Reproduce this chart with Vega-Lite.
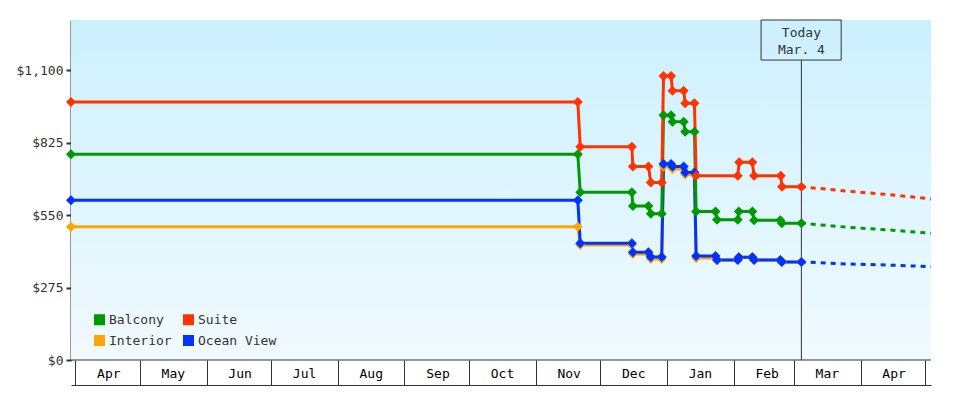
{
  "$schema": "https://vega.github.io/schema/vega-lite/v6.json",
  "width": 860,
  "height": 340,
  "autosize": "none",
  "padding": {"left": 71, "top": 20, "right": 49, "bottom": 40},
  "background": "white",
  "config": {
    "font": "DejaVu Sans Mono",
    "view": {"stroke": null},
    "axisX": {"domainColor": "#333", "tickColor": "#333", "labelColor": "#000", "labelFontSize": 13, "labelFont": "DejaVu Sans Mono", "grid": false},
    "axisY": {"domainColor": "#333", "domainWidth": 2, "tickColor": "#333", "tickWidth": 2, "tickSize": 5, "labelColor": "#333", "labelFontSize": 13, "labelFont": "DejaVu Sans Mono", "labelPadding": 3, "grid": false},
    "legend": {"title": null, "orient": "none", "legendX": 22, "legendY": 293, "columns": 2, "direction": "horizontal",
               "symbolType": "square", "symbolSize": 121, "symbolStrokeWidth": 0, "symbolOpacity": 1, "symbolDash": [],
               "labelFontSize": 13, "labelFont": "DejaVu Sans Mono", "labelColor": "#333", "labelOffset": 3,
               "rowPadding": 7, "columnPadding": 10, "padding": 0}
  },
  "datasets": {
    "obs": [
      {"cabin": "Interior", "date": "2022-03-30T00:00", "price": 506},
      {"cabin": "Interior", "date": "2022-11-20T14:00", "price": 506},
      {"cabin": "Interior", "date": "2022-11-21T17:00", "price": 436},
      {"cabin": "Interior", "date": "2022-12-15T17:00", "price": 436},
      {"cabin": "Interior", "date": "2022-12-16T04:00", "price": 402},
      {"cabin": "Interior", "date": "2022-12-23T10:00", "price": 402},
      {"cabin": "Interior", "date": "2022-12-24T12:00", "price": 383},
      {"cabin": "Interior", "date": "2022-12-29T14:00", "price": 383},
      {"cabin": "Interior", "date": "2022-12-30T10:00", "price": 734},
      {"cabin": "Interior", "date": "2023-01-02T22:00", "price": 734},
      {"cabin": "Interior", "date": "2023-01-03T14:00", "price": 725},
      {"cabin": "Interior", "date": "2023-01-08T19:00", "price": 725},
      {"cabin": "Interior", "date": "2023-01-09T12:00", "price": 704},
      {"cabin": "Interior", "date": "2023-01-13T19:00", "price": 704},
      {"cabin": "Interior", "date": "2023-01-14T14:00", "price": 387},
      {"cabin": "Interior", "date": "2023-01-23T14:00", "price": 387},
      {"cabin": "Interior", "date": "2023-01-24T07:00", "price": 379},
      {"cabin": "Interior", "date": "2023-02-02T22:00", "price": 379},
      {"cabin": "Interior", "date": "2023-02-03T10:00", "price": 390},
      {"cabin": "Interior", "date": "2023-02-09T17:00", "price": 390},
      {"cabin": "Interior", "date": "2023-02-10T12:00", "price": 379},
      {"cabin": "Interior", "date": "2023-02-22T17:00", "price": 379},
      {"cabin": "Interior", "date": "2023-02-23T10:00", "price": 372},
      {"cabin": "Interior", "date": "2023-03-04T12:00", "price": 372},
      {"cabin": "Ocean View", "date": "2022-03-30T00:00", "price": 606},
      {"cabin": "Ocean View", "date": "2022-11-20T14:00", "price": 606},
      {"cabin": "Ocean View", "date": "2022-11-21T17:00", "price": 443},
      {"cabin": "Ocean View", "date": "2022-12-15T17:00", "price": 443},
      {"cabin": "Ocean View", "date": "2022-12-16T04:00", "price": 409},
      {"cabin": "Ocean View", "date": "2022-12-23T10:00", "price": 409},
      {"cabin": "Ocean View", "date": "2022-12-24T12:00", "price": 391},
      {"cabin": "Ocean View", "date": "2022-12-29T14:00", "price": 391},
      {"cabin": "Ocean View", "date": "2022-12-30T10:00", "price": 744},
      {"cabin": "Ocean View", "date": "2023-01-02T22:00", "price": 744},
      {"cabin": "Ocean View", "date": "2023-01-03T14:00", "price": 734},
      {"cabin": "Ocean View", "date": "2023-01-08T19:00", "price": 734},
      {"cabin": "Ocean View", "date": "2023-01-09T12:00", "price": 711},
      {"cabin": "Ocean View", "date": "2023-01-13T19:00", "price": 711},
      {"cabin": "Ocean View", "date": "2023-01-14T14:00", "price": 395},
      {"cabin": "Ocean View", "date": "2023-01-23T14:00", "price": 395},
      {"cabin": "Ocean View", "date": "2023-01-24T07:00", "price": 379},
      {"cabin": "Ocean View", "date": "2023-02-02T22:00", "price": 379},
      {"cabin": "Ocean View", "date": "2023-02-03T10:00", "price": 390},
      {"cabin": "Ocean View", "date": "2023-02-09T17:00", "price": 390},
      {"cabin": "Ocean View", "date": "2023-02-10T12:00", "price": 379},
      {"cabin": "Ocean View", "date": "2023-02-22T17:00", "price": 379},
      {"cabin": "Ocean View", "date": "2023-02-23T10:00", "price": 372},
      {"cabin": "Ocean View", "date": "2023-03-04T12:00", "price": 372},
      {"cabin": "Balcony", "date": "2022-03-30T00:00", "price": 781},
      {"cabin": "Balcony", "date": "2022-11-20T14:00", "price": 781},
      {"cabin": "Balcony", "date": "2022-11-21T17:00", "price": 636},
      {"cabin": "Balcony", "date": "2022-12-15T17:00", "price": 636},
      {"cabin": "Balcony", "date": "2022-12-16T04:00", "price": 584},
      {"cabin": "Balcony", "date": "2022-12-23T10:00", "price": 584},
      {"cabin": "Balcony", "date": "2022-12-24T12:00", "price": 555},
      {"cabin": "Balcony", "date": "2022-12-29T14:00", "price": 555},
      {"cabin": "Balcony", "date": "2022-12-30T10:00", "price": 929},
      {"cabin": "Balcony", "date": "2023-01-02T22:00", "price": 929},
      {"cabin": "Balcony", "date": "2023-01-03T14:00", "price": 904},
      {"cabin": "Balcony", "date": "2023-01-08T19:00", "price": 904},
      {"cabin": "Balcony", "date": "2023-01-09T12:00", "price": 866},
      {"cabin": "Balcony", "date": "2023-01-13T19:00", "price": 866},
      {"cabin": "Balcony", "date": "2023-01-14T14:00", "price": 563},
      {"cabin": "Balcony", "date": "2023-01-23T14:00", "price": 563},
      {"cabin": "Balcony", "date": "2023-01-24T07:00", "price": 532},
      {"cabin": "Balcony", "date": "2023-02-02T22:00", "price": 532},
      {"cabin": "Balcony", "date": "2023-02-03T10:00", "price": 563},
      {"cabin": "Balcony", "date": "2023-02-09T17:00", "price": 563},
      {"cabin": "Balcony", "date": "2023-02-10T12:00", "price": 530},
      {"cabin": "Balcony", "date": "2023-02-22T17:00", "price": 530},
      {"cabin": "Balcony", "date": "2023-02-23T10:00", "price": 519},
      {"cabin": "Balcony", "date": "2023-03-04T12:00", "price": 519},
      {"cabin": "Suite", "date": "2022-03-30T00:00", "price": 979},
      {"cabin": "Suite", "date": "2022-11-20T14:00", "price": 979},
      {"cabin": "Suite", "date": "2022-11-21T17:00", "price": 809},
      {"cabin": "Suite", "date": "2022-12-15T17:00", "price": 809},
      {"cabin": "Suite", "date": "2022-12-16T04:00", "price": 734},
      {"cabin": "Suite", "date": "2022-12-23T10:00", "price": 734},
      {"cabin": "Suite", "date": "2022-12-24T12:00", "price": 673},
      {"cabin": "Suite", "date": "2022-12-29T14:00", "price": 673},
      {"cabin": "Suite", "date": "2022-12-30T10:00", "price": 1078},
      {"cabin": "Suite", "date": "2023-01-02T22:00", "price": 1078},
      {"cabin": "Suite", "date": "2023-01-03T14:00", "price": 1022},
      {"cabin": "Suite", "date": "2023-01-08T19:00", "price": 1022},
      {"cabin": "Suite", "date": "2023-01-09T12:00", "price": 974},
      {"cabin": "Suite", "date": "2023-01-13T19:00", "price": 974},
      {"cabin": "Suite", "date": "2023-01-14T14:00", "price": 699},
      {"cabin": "Suite", "date": "2023-02-02T22:00", "price": 699},
      {"cabin": "Suite", "date": "2023-02-03T14:00", "price": 750},
      {"cabin": "Suite", "date": "2023-02-09T17:00", "price": 750},
      {"cabin": "Suite", "date": "2023-02-10T12:00", "price": 699},
      {"cabin": "Suite", "date": "2023-02-22T22:00", "price": 699},
      {"cabin": "Suite", "date": "2023-02-23T12:00", "price": 657},
      {"cabin": "Suite", "date": "2023-03-04T12:00", "price": 657}
    ],
    "fc": [
      {"cabin": "Ocean View", "date": "2023-03-04T12:00", "price": 372},
      {"cabin": "Ocean View", "date": "2023-03-27T00:00", "price": 364},
      {"cabin": "Ocean View", "date": "2023-04-14T17:00", "price": 360},
      {"cabin": "Ocean View", "date": "2023-05-03T18:00", "price": 354},
      {"cabin": "Balcony", "date": "2023-03-04T12:00", "price": 519},
      {"cabin": "Balcony", "date": "2023-03-27T00:00", "price": 503},
      {"cabin": "Balcony", "date": "2023-04-14T17:00", "price": 493},
      {"cabin": "Balcony", "date": "2023-05-03T18:00", "price": 481},
      {"cabin": "Suite", "date": "2023-03-04T12:00", "price": 657},
      {"cabin": "Suite", "date": "2023-03-27T00:00", "price": 640},
      {"cabin": "Suite", "date": "2023-04-14T17:00", "price": 627},
      {"cabin": "Suite", "date": "2023-05-03T18:00", "price": 611}
    ]
  },
  "layer": [
    {
      "data": {"values": [{}]},
      "mark": {"type": "rect", "color": {"gradient": "linear", "x1": 0, "y1": 0, "x2": 0, "y2": 1, "stops": [{"offset": 0, "color": "#ccf0fe"}, {"offset": 1, "color": "#f1faff"}]}},
      "encoding": {}
    },
    {
      "data": {"values": [{}]},
      "mark": {"type": "rule", "color": "#333", "strokeWidth": 1},
      "encoding": {"y": {"datum": 0, "type": "quantitative"}}
    },
    {
      "data": {"values": [{}]},
      "mark": {"type": "rule", "color": "#333", "strokeWidth": 1},
      "encoding": {
        "x": {"datum": {"year": 2023, "month": 3, "date": 4, "hours": 12}, "type": "temporal"},
        "y": {"datum": 1138, "type": "quantitative"},
        "y2": {"datum": 0}
      }
    },
    {
      "data": {"values": [{}]},
      "mark": {"type": "rect", "fill": "transparent", "stroke": "#333", "strokeWidth": 1},
      "encoding": {
        "x": {"datum": {"year": 2023, "month": 2, "date": 13, "hours": 18, "minutes": 30}, "type": "temporal"},
        "x2": {"datum": {"year": 2023, "month": 3, "date": 23}},
        "y": {"datum": 1290, "type": "quantitative"},
        "y2": {"datum": 1138}
      }
    },
    {
      "data": {"values": [{}]},
      "mark": {"type": "text", "fontSize": 13, "color": "#333", "baseline": "middle", "align": "center", "lineHeight": 17, "font": "DejaVu Sans Mono"},
      "encoding": {
        "x": {"datum": {"year": 2023, "month": 3, "date": 4, "hours": 12}, "type": "temporal"},
        "y": {"datum": 1240, "type": "quantitative"},
        "text": {"value": ["Today", "Mar. 4"]}
      }
    },
    {
      "data": {"name": "obs"},
      "mark": {"type": "line", "strokeWidth": 3},
      "encoding": {
        "x": {"field": "date", "type": "temporal", "title": null,
              "axis": {"tickCount": {"interval": "month", "step": 1}, "offset": 25, "tickSize": -25, "labelOffset": 33, "labelPadding": 13, "labelBaseline": "middle", "labelAlign": "center", "labelFlush": false, "labelOverlap": false, "labelBound": false,
                       "labelExpr": "(month(datum.value) == 4 && year(datum.value) == 2023) ? '' : timeFormat(datum.value, '%b')"}},
        "y": {"field": "price", "type": "quantitative", "title": null, "scale": {"domain": [0, 1290], "nice": false},
              "axis": {"values": [0, 275, 550, 825, 1100], "format": "$,.0f"}},
        "color": {"field": "cabin", "type": "nominal",
                  "scale": {"domain": ["Balcony", "Suite", "Interior", "Ocean View"], "range": ["#009900", "#ff3300", "#ffa500", "#0033ff"]}}
      }
    },
    {
      "data": {"name": "fc"},
      "mark": {"type": "line", "strokeWidth": 3, "strokeDash": [5, 5], "strokeDashOffset": 0.7},
      "encoding": {
        "x": {"field": "date", "type": "temporal"},
        "y": {"field": "price", "type": "quantitative"},
        "color": {"field": "cabin", "type": "nominal"}
      }
    },
    {
      "data": {"name": "obs"},
      "mark": {"type": "point", "shape": "diamond", "filled": true, "size": 100, "opacity": 1},
      "encoding": {
        "x": {"field": "date", "type": "temporal"},
        "y": {"field": "price", "type": "quantitative"},
        "color": {"field": "cabin", "type": "nominal"}
      }
    }
  ]
}
